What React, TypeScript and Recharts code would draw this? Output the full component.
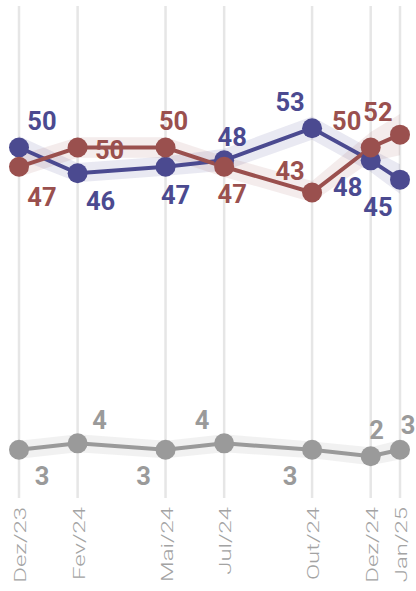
import React from 'react';
import { ComposedChart, Line, Area, XAxis, YAxis, CartesianGrid, LabelList } from 'recharts';

// Month index since Dez/23 for each survey
const months = [0, 2, 5, 7, 10, 12, 13];
const tickLabels = ['Dez/23', 'Fev/24', 'Mai/24', 'Jul/24', 'Out/24', 'Dez/24', 'Jan/25'];

const seriesBlue = [50, 46, 47, 48, 53, 48, 45];
const seriesBlueLow = [48.2, 44.6, 45.6, 46.4, 51.2, 46.2, 42.8];
const seriesBlueHigh = [51.8, 47.6, 48.6, 49.8, 54.8, 49.8, 47.4];

const seriesRed = [47, 50, 50, 47, 43, 50, 52];
const seriesRedLow = [45.4, 48.4, 48.4, 45.4, 41.5, 47.8, 48.8];
const seriesRedHigh = [48.8, 51.6, 51.6, 48.6, 44.8, 52.4, 55.2];

const seriesGray = [3, 4, 3, 4, 3, 2, 3];
const seriesGrayLow = [1.6, 2.6, 1.7, 2.6, 1.7, 0.6, 1.5];
const seriesGrayHigh = [4.4, 5.4, 4.4, 5.4, 4.3, 3.4, 4.5];

// label placement offsets (relative to each point)
const blueLabelOffsets = [[23, -26], [23, 28], [10, 28], [8, -23], [-22, -26], [-23, 27], [-22, 27]];
const redLabelOffsets = [[23, 30], [32, 3], [8, -26], [8, 27], [-22, -22], [-24, -26], [-22, -23]];
const grayLabelOffsets = [[23, 26], [22, -23], [-22, 26], [-22, -23], [-22, 26], [6, -26], [8, -25]];

const BLUE = '#4b4a90';
const RED = '#9a504e';
const GRAY = '#9a9a9a';

const data = months.map((m, i) => ({
  m,
  blue: seriesBlue[i],
  blueBand: [seriesBlueLow[i], seriesBlueHigh[i]],
  red: seriesRed[i],
  redBand: [seriesRedLow[i], seriesRedHigh[i]],
  gray: seriesGray[i],
  grayBand: [seriesGrayLow[i], seriesGrayHigh[i]],
}));

const makeLabel = (offsets: number[][], color: string) => (props: any) => {
  const { x, y, value, index } = props;
  const off = offsets[index] || [0, -20];
  return (
    <text
      x={x + off[0]}
      y={y + off[1]}
      textAnchor="middle"
      dominantBaseline="central"
      fill={color}
      fontFamily="Roboto"
      fontWeight={700}
      fontSize={25.5}
    >
      {value}
    </text>
  );
};

const Tick = (props: any) => {
  const { x, payload } = props;
  const idx = months.indexOf(payload.value);
  return (
    <text
      transform={`translate(${x + 1.5},507) rotate(-90) scale(1.45,1)`}
      textAnchor="end"
      dominantBaseline="central"
      fill="#a3a3a3"
      fontFamily="Roboto"
      fontWeight={300}
      fontSize={16.5}
    >
      {tickLabels[idx]}
    </text>
  );
};

export default function App() {
  return (
    <div style={{ position: 'absolute', left: 0, top: 0 }}>
      <ComposedChart width={416} height={591} data={data} margin={{ top: 6, right: 16, bottom: 0, left: 19 }}>
        <CartesianGrid vertical={true} horizontal={false} stroke="#e6e6e6" strokeWidth={2.5} />
        <XAxis
          dataKey="m"
          type="number"
          domain={[0, 13]}
          ticks={months}
          interval={0}
          height={93}
          axisLine={false}
          tickLine={false}
          tick={<Tick />}
        />
        <YAxis hide type="number" domain={[-4.5, 72]} allowDataOverflow />
        <Area type="linear" dataKey="grayBand" fill={GRAY} fillOpacity={0.14} stroke="none" isAnimationActive={false} activeDot={false} />
        <Area type="linear" dataKey="blueBand" fill={BLUE} fillOpacity={0.12} stroke="none" isAnimationActive={false} activeDot={false} />
        <Area type="linear" dataKey="redBand" fill={RED} fillOpacity={0.11} stroke="none" isAnimationActive={false} activeDot={false} />
        <Line type="linear" dataKey="gray" stroke={GRAY} strokeWidth={4} dot={{ r: 10, fill: GRAY, stroke: 'none' }} activeDot={false} isAnimationActive={false}>
          <LabelList dataKey="gray" content={makeLabel(grayLabelOffsets, GRAY)} />
        </Line>
        <Line type="linear" dataKey="blue" stroke={BLUE} strokeWidth={4} dot={{ r: 10, fill: BLUE, stroke: 'none' }} activeDot={false} isAnimationActive={false}>
          <LabelList dataKey="blue" content={makeLabel(blueLabelOffsets, BLUE)} />
        </Line>
        <Line type="linear" dataKey="red" stroke={RED} strokeWidth={4} dot={{ r: 10, fill: RED, stroke: 'none' }} activeDot={false} isAnimationActive={false}>
          <LabelList dataKey="red" content={makeLabel(redLabelOffsets, RED)} />
        </Line>
      </ComposedChart>
    </div>
  );
}
